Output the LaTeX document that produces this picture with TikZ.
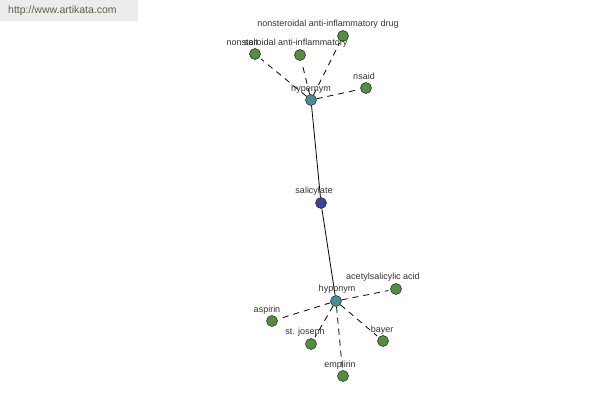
\documentclass[tikz,border=0pt]{standalone}
\usepackage{fontspec}
\setmainfont{Liberation Sans}
\begin{document}
\begin{tikzpicture}[x=1bp,y=-1bp,
  leaf/.style={circle,draw=black!80,fill=leafgreen,minimum size=11bp,inner sep=0pt,line width=0.6bp},
  hub/.style={circle,draw=black!80,fill=hubteal,minimum size=11bp,inner sep=0pt,line width=0.6bp},
  core/.style={circle,draw=black!80,fill=coreblue,minimum size=11bp,inner sep=0pt,line width=0.6bp},
  lbl/.style={font=\fontsize{9bp}{10bp}\selectfont,text=black!80,inner sep=0pt},
  dline/.style={dash pattern=on 6bp off 5bp,line width=0.8bp},
  sline/.style={line width=0.8bp}]
\definecolor{leafgreen}{RGB}{84,140,64}
\definecolor{hubteal}{RGB}{72,142,150}
\definecolor{coreblue}{RGB}{56,68,150}
\definecolor{wmgray}{RGB}{236,236,236}
\definecolor{wmtext}{RGB}{90,100,60}
\useasboundingbox (0,0) rectangle (600,400);
\fill[white] (0,0) rectangle (600,400);
\fill[wmgray] (0,0) rectangle (138,21);
\node[anchor=west,inner sep=0pt,font=\fontsize{10.5bp}{12bp}\selectfont,text=wmtext] (wm) at (8,11) {http://www.artikata.com};
% nodes
\node[hub] (hyper) at (311,100) {};
\node[core] (sal) at (321,203) {};
\node[hub] (hypo) at (336,301) {};
\node[leaf] (nsaidrug) at (343,36) {};
\node[leaf] (salt) at (255,54) {};
\node[leaf] (nsai) at (300,55) {};
\node[leaf] (nsaid) at (366,88) {};
\node[leaf] (acet) at (396,289) {};
\node[leaf] (aspirin) at (272,321) {};
\node[leaf] (stj) at (311,344) {};
\node[leaf] (bayer) at (383,341) {};
\node[leaf] (emp) at (343,376) {};
% edges
\draw[sline] (hyper) -- (sal);
\draw[sline] (sal) -- (hypo);
\foreach \n in {nsaidrug,salt,nsai,nsaid}{\draw[dline,shorten >=2bp] (hyper) -- (\n);}
\foreach \n in {acet,aspirin,stj,bayer,emp}{\draw[dline,shorten >=2bp] (hypo) -- (\n);}
% labels
\node[lbl] (l1) at (311,89) {hypernym};
\node[lbl] (l2) at (314,191) {salicylate};
\node[lbl] (l3) at (337,289) {hyponym};
\node[lbl] (l4) at (328,24) {nonsteroidal anti-inflammatory drug};
\node[lbl] (l5) at (251,42) {salt};
\node[lbl] (l6) at (287,43) {nonsteroidal anti-inflammatory};
\node[lbl] (l7) at (364,76) {nsaid};
\node[lbl] (l8) at (383,277) {acetylsalicylic acid};
\node[lbl] (l9) at (267,310) {aspirin};
\node[lbl] (l10) at (305,332) {st. joseph};
\node[lbl] (l11) at (382,330) {bayer};
\node[lbl] (l12) at (340,365) {emplirin};
\end{tikzpicture}
\end{document}
